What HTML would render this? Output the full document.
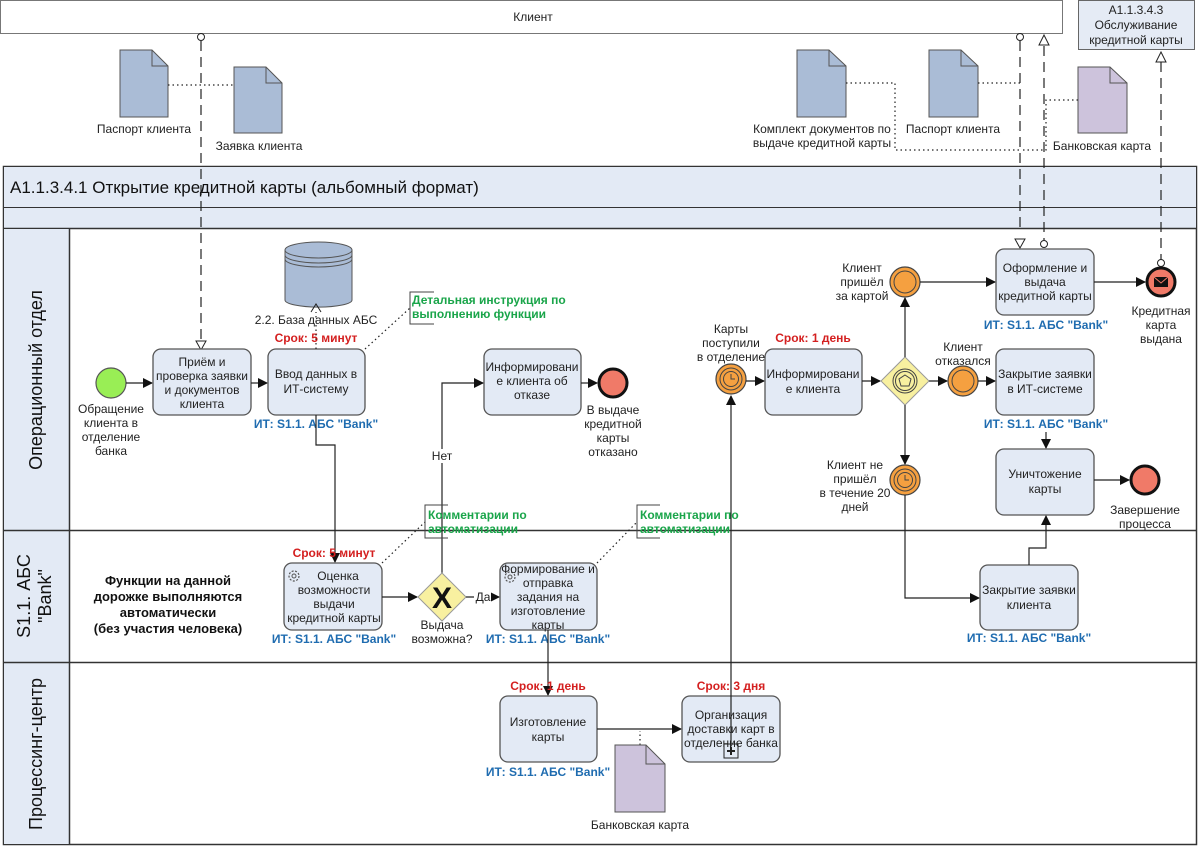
<!DOCTYPE html>
<html><head><meta charset="utf-8"><style>
html,body{margin:0;padding:0;background:#fff}
svg{display:block;font-family:"Liberation Sans",sans-serif}
.t{font-size:12px;fill:#222;text-anchor:middle}
.r{font-size:12px;fill:#d42020;font-weight:bold;text-anchor:middle}
.b{font-size:12px;fill:#1f6cb0;font-weight:bold;text-anchor:middle}
.g{font-size:12px;fill:#1aa54a;font-weight:bold}
.task{fill:#e3eaf5;stroke:#555;stroke-width:1.3}
.sq{stroke:#222;stroke-width:1.2;fill:none}
.dash{stroke:#222;stroke-width:1.2;fill:none;stroke-dasharray:10,6}
.dot{stroke:#222;stroke-width:1.2;fill:none;stroke-dasharray:1.5,3}
.doc{fill:#aabcd6;stroke:#555;stroke-width:1}
.docp{fill:#cdc3dc;stroke:#555;stroke-width:1}
</style></head><body>
<svg width="1200" height="846" viewBox="0 0 1200 846" xmlns="http://www.w3.org/2000/svg">
<defs>
<marker id="a" markerWidth="10" markerHeight="10" refX="9" refY="5" orient="auto" markerUnits="userSpaceOnUse"><path d="M0,0 L10,5 L0,10 z" fill="#111"/></marker>
</defs>
<rect x="0.5" y="0.5" width="1062" height="33" fill="#fff" stroke="#777"/>
<text class="t" x="533" y="21">Клиент</text>
<rect x="1078.5" y="0.5" width="116" height="49" fill="#e5ebf5" stroke="#666"/>
<text class="t" x="1136" y="14">A1.1.3.4.3</text>
<text class="t" x="1136" y="29">Обслуживание</text>
<text class="t" x="1136" y="44">кредитной карты</text>

<rect x="3.5" y="166.5" width="1193" height="678" fill="#fff" stroke="#333" stroke-width="1.5"/>
<rect x="4" y="167" width="1192" height="40" fill="#e3eaf5"/>
<rect x="4" y="208" width="1192" height="20" fill="#e3eaf5"/>
<line x1="3" y1="207.5" x2="1197" y2="207.5" stroke="#333"/>
<line x1="3" y1="228.5" x2="1197" y2="228.5" stroke="#333" stroke-width="1.5"/>
<text x="10" y="193" style="font-size:17px;fill:#111">A1.1.3.4.1 Открытие кредитной карты (альбомный формат)</text>
<rect x="4" y="229" width="65" height="615" fill="#e3eaf5"/>
<line x1="69.5" y1="229" x2="69.5" y2="845" stroke="#333" stroke-width="1.5"/>
<line x1="3" y1="530.5" x2="1197" y2="530.5" stroke="#333" stroke-width="1.5"/>
<line x1="3" y1="662.5" x2="1197" y2="662.5" stroke="#333" stroke-width="1.5"/>
<text transform="translate(42,380) rotate(-90)" style="font-size:18px;fill:#111;text-anchor:middle">Операционный отдел</text>
<text transform="translate(30,596) rotate(-90)" style="font-size:18px;fill:#111;text-anchor:middle">S1.1. АБС</text>
<text transform="translate(51,596) rotate(-90)" style="font-size:18px;fill:#111;text-anchor:middle">"Bank"</text>
<text transform="translate(42,754) rotate(-90)" style="font-size:18px;fill:#111;text-anchor:middle">Процессинг-центр</text>

<path class="doc" d="M120,50 H152 L168,66 V117 H120 Z"/><path d="M152,50 V66 H168" fill="none" stroke="#555"/>
<text class="t" x="144" y="133">Паспорт клиента</text>
<path class="doc" d="M234,67 H266 L282,83 V133 H234 Z"/><path d="M266,67 V83 H282" fill="none" stroke="#555"/>
<text class="t" x="259" y="150">Заявка клиента</text>
<path class="dot" d="M168,85 H234"/>
<path class="doc" d="M797,50 H829 L846,66 V117 H797 Z"/><path d="M829,50 V66 H846" fill="none" stroke="#555"/>
<text class="t" x="822" y="133">Комплект документов по</text>
<text class="t" x="822" y="147">выдаче кредитной карты</text>
<path class="doc" d="M929,50 H961 L978,66 V117 H929 Z"/><path d="M961,50 V66 H978" fill="none" stroke="#555"/>
<text class="t" x="953" y="133">Паспорт клиента</text>
<path class="docp" d="M1078,67 H1110 L1127,83 V133 H1078 Z"/><path d="M1110,67 V83 H1127" fill="none" stroke="#555"/>
<text class="t" x="1102" y="150">Банковская карта</text>
<path class="dot" d="M846,83 H895 V150 H1020"/>
<path class="dot" d="M978,83 H1020"/>
<path class="dot" d="M1078,100 H1046 V150 H1020"/>

<path class="dash" d="M201,41 V342"/>
<circle cx="201" cy="37" r="3.5" fill="#fff" stroke="#222"/>
<path d="M196,341 L206,341 L201,350 Z" fill="#fff" stroke="#222"/>
<path class="dash" d="M1020,41 V232"/>
<circle cx="1020" cy="37" r="3.5" fill="#fff" stroke="#222"/>
<path d="M1015,239 L1025,239 L1020,248 Z" fill="#fff" stroke="#222"/>
<path class="dash" d="M1044,46 V240"/>
<path d="M1039,45 L1049,45 L1044,35 Z" fill="#fff" stroke="#222"/>
<circle cx="1044" cy="244" r="3.5" fill="#fff" stroke="#222"/>
<path class="dash" d="M1161,62 V262"/>
<path d="M1156,62 L1166,62 L1161,52 Z" fill="#fff" stroke="#222"/>
<circle cx="1161" cy="263" r="3.5" fill="#fff" stroke="#222"/>

<circle cx="111" cy="383" r="15" fill="#99ee55" stroke="#555" stroke-width="1.2"/>
<text class="t" x="111" y="413">Обращение</text><text class="t" x="111" y="427">клиента в</text><text class="t" x="111" y="441">отделение</text><text class="t" x="111" y="455">банка</text>
<path class="sq" d="M126,383 H152" marker-end="url(#a)"/>
<rect class="task" x="153" y="349" width="98" height="66" rx="8"/>
<text class="t" x="202" y="366">Приём и</text><text class="t" x="202" y="380">проверка заявки</text><text class="t" x="202" y="394">и документов</text><text class="t" x="202" y="408">клиента</text>
<path class="sq" d="M251,383 H267" marker-end="url(#a)"/>
<rect class="task" x="268" y="349" width="97" height="66" rx="8"/>
<text class="t" x="316" y="378">Ввод данных в</text><text class="t" x="316" y="393">ИТ-систему</text>
<text class="b" x="316" y="428">ИТ: S1.1. АБС "Bank"</text>
<text class="r" x="316" y="342">Срок: 5 минут</text>
<path d="M285,250 V300 A33,7 0 0 0 352,300 V250" fill="#aabcd6" stroke="#555"/>
<ellipse cx="318.5" cy="250" rx="33.5" ry="8" fill="#aabcd6" stroke="#555"/>
<path d="M285,255 A33.5,8 0 0 0 352,255 M285,259 A33.5,8 0 0 0 352,259" fill="none" stroke="#555"/>
<text class="t" x="316" y="324">2.2. База данных АБС</text>
<path class="dot" d="M316,349 V312"/><path d="M311,312 L316,304 L321,312" fill="none" stroke="#222"/>
<path d="M434,292 H410 V324 H434" fill="none" stroke="#444"/>
<text class="g" x="412" y="304">Детальная инструкция по</text>
<text class="g" x="412" y="318">выполнению функции</text>
<path class="dot" d="M365,349 L410,308"/>
<rect class="task" x="484" y="349" width="97" height="66" rx="8"/>
<text class="t" x="532" y="371">Информировани</text><text class="t" x="532" y="385">е клиента об</text><text class="t" x="532" y="399">отказе</text>
<path class="sq" d="M581,383 H597" marker-end="url(#a)"/>
<circle cx="613" cy="383" r="14" fill="#f07a68" stroke="#111" stroke-width="3"/>
<text class="t" x="613" y="414">В выдаче</text><text class="t" x="613" y="428">кредитной</text><text class="t" x="613" y="442">карты</text><text class="t" x="613" y="456">отказано</text>
<path class="sq" d="M442,573 V383 H483" marker-end="url(#a)"/>
<rect x="430" y="449" width="24" height="14" fill="#fff"/>
<text class="t" x="442" y="460">Нет</text>
<path class="sq" d="M316,415 V445 H335 V562" marker-end="url(#a)"/>

<circle cx="731" cy="379" r="15" fill="#f5a040" stroke="#444" stroke-width="1.2"/>
<circle cx="731" cy="379" r="11" fill="none" stroke="#444"/><circle cx="731" cy="379" r="7.5" fill="none" stroke="#444"/>
<path d="M731,374 V379 H735" fill="none" stroke="#444"/>
<text class="t" x="731" y="333">Карты</text><text class="t" x="731" y="347">поступили</text><text class="t" x="731" y="361">в отделение</text>
<path class="sq" d="M746,381 H764" marker-end="url(#a)"/>
<rect class="task" x="765" y="349" width="97" height="66" rx="8"/>
<text class="t" x="813" y="378">Информировани</text><text class="t" x="813" y="393">е клиента</text>
<text class="r" x="813" y="342">Срок: 1 день</text>
<path class="sq" d="M862,381 H880" marker-end="url(#a)"/>
<path d="M905,357 L929,381 L905,405 L881,381 Z" fill="#f8f0a0" stroke="#999"/>
<circle cx="905" cy="381" r="12" fill="none" stroke="#444"/><circle cx="905" cy="381" r="9.5" fill="none" stroke="#444"/>
<path d="M905,375 L911,379 L909,386 L901,386 L899,379 Z" fill="none" stroke="#444"/>
<path class="sq" d="M905,357 V298" marker-end="url(#a)"/>
<path class="sq" d="M905,405 V464" marker-end="url(#a)"/>
<path class="sq" d="M929,381 H947" marker-end="url(#a)"/>
<circle cx="905" cy="282" r="15" fill="#f5a040" stroke="#444" stroke-width="1.2"/><circle cx="905" cy="282" r="11" fill="none" stroke="#444"/>
<text class="t" x="862" y="272">Клиент</text><text class="t" x="862" y="286">пришёл</text><text class="t" x="862" y="300">за картой</text>
<path class="sq" d="M920,282 H995" marker-end="url(#a)"/>
<rect class="task" x="996" y="249" width="98" height="66" rx="8"/>
<text class="t" x="1045" y="272">Оформление и</text><text class="t" x="1045" y="286">выдача</text><text class="t" x="1045" y="300">кредитной карты</text>
<text class="b" x="1046" y="329">ИТ: S1.1. АБС "Bank"</text>
<path class="sq" d="M1094,282 H1145" marker-end="url(#a)"/>
<circle cx="1161" cy="282" r="14" fill="#f07a68" stroke="#111" stroke-width="3"/>
<rect x="1154" y="277" width="14" height="10" fill="#111"/><path d="M1154,277 L1161,283 L1168,277" fill="none" stroke="#f07a68"/>
<text class="t" x="1161" y="315">Кредитная</text><text class="t" x="1161" y="329">карта</text><text class="t" x="1161" y="343">выдана</text>
<circle cx="963" cy="381" r="15" fill="#f5a040" stroke="#444" stroke-width="1.2"/><circle cx="963" cy="381" r="11" fill="none" stroke="#444"/>
<text class="t" x="963" y="351">Клиент</text><text class="t" x="963" y="365">отказался</text>
<path class="sq" d="M978,381 H995" marker-end="url(#a)"/>
<rect class="task" x="996" y="349" width="98" height="66" rx="8"/>
<text class="t" x="1045" y="378">Закрытие заявки</text><text class="t" x="1045" y="393">в ИТ-системе</text>
<text class="b" x="1046" y="428">ИТ: S1.1. АБС "Bank"</text>
<path class="sq" d="M1046,432 V448" marker-end="url(#a)"/>
<rect class="task" x="996" y="449" width="98" height="66" rx="8"/>
<text class="t" x="1045" y="478">Уничтожение</text><text class="t" x="1045" y="493">карты</text>
<path class="sq" d="M1094,480 H1129" marker-end="url(#a)"/>
<circle cx="1145" cy="480" r="14" fill="#f07a68" stroke="#111" stroke-width="3"/>
<text class="t" x="1145" y="514">Завершение</text><text class="t" x="1145" y="528">процесса</text>
<circle cx="905" cy="480" r="15" fill="#f5a040" stroke="#444" stroke-width="1.2"/>
<circle cx="905" cy="480" r="11" fill="none" stroke="#444"/><circle cx="905" cy="480" r="7.5" fill="none" stroke="#444"/>
<path d="M905,475 V480 H909" fill="none" stroke="#444"/>
<text class="t" x="855" y="469">Клиент не</text><text class="t" x="855" y="483">пришёл</text><text class="t" x="855" y="497">в течение 20</text><text class="t" x="855" y="511">дней</text>
<path class="sq" d="M905,495 V598 H979" marker-end="url(#a)"/>
<rect class="task" x="980" y="565" width="98" height="65" rx="8"/>
<text class="t" x="1029" y="594">Закрытие заявки</text><text class="t" x="1029" y="609">клиента</text>
<text class="b" x="1029" y="642">ИТ: S1.1. АБС "Bank"</text>
<path class="sq" d="M1029,565 V548 H1046 V516" marker-end="url(#a)"/>

<text x="168" y="585" style="font-size:13px;font-weight:bold;text-anchor:middle;fill:#111">Функции на данной</text>
<text x="168" y="601" style="font-size:13px;font-weight:bold;text-anchor:middle;fill:#111">дорожке выполняются</text>
<text x="168" y="617" style="font-size:13px;font-weight:bold;text-anchor:middle;fill:#111">автоматически</text>
<text x="168" y="633" style="font-size:13px;font-weight:bold;text-anchor:middle;fill:#111">(без участия человека)</text>
<rect class="task" x="284" y="563" width="98" height="67" rx="8"/>
<circle cx="294" cy="576" r="5" fill="none" stroke="#555" stroke-width="1.2" stroke-dasharray="2,1.5"/><circle cx="294" cy="576" r="2" fill="none" stroke="#555"/>
<text class="t" x="338" y="580">Оценка</text><text class="t" x="334" y="594">возможности</text><text class="t" x="334" y="608">выдачи</text><text class="t" x="334" y="622">кредитной карты</text>
<text class="r" x="334" y="557">Срок: 5 минут</text>
<text class="b" x="334" y="643">ИТ: S1.1. АБС "Bank"</text>
<path class="sq" d="M382,597 H417" marker-end="url(#a)"/>
<path d="M442,573 L466,597 L442,621 L418,597 Z" fill="#f8f0a0" stroke="#999"/>
<text x="442" y="608" style="font-size:30px;font-weight:bold;text-anchor:middle;fill:#111">X</text>
<text class="t" x="442" y="629">Выдача</text><text class="t" x="442" y="643">возможна?</text>
<path class="sq" d="M466,597 H499" marker-end="url(#a)"/>
<rect x="474" y="589" width="17" height="14" fill="#fff"/>
<text class="t" x="483" y="601">Да</text>
<rect class="task" x="500" y="563" width="97" height="67" rx="8"/>
<circle cx="510" cy="577" r="5" fill="none" stroke="#555" stroke-width="1.2" stroke-dasharray="2,1.5"/><circle cx="510" cy="577" r="2" fill="none" stroke="#555"/>
<text class="t" x="548" y="573">Формирование и</text><text class="t" x="548" y="587">отправка</text><text class="t" x="548" y="601">задания на</text><text class="t" x="548" y="615">изготовление</text><text class="t" x="548" y="629">карты</text>
<text class="b" x="548" y="643">ИТ: S1.1. АБС "Bank"</text>
<path d="M448,505 H425 V538 H448" fill="none" stroke="#444"/>
<text class="g" x="428" y="519">Комментарии по</text><text class="g" x="428" y="533">автоматизации</text>
<path class="dot" d="M382,563 L425,522"/>
<path d="M660,505 H637 V538 H660" fill="none" stroke="#444"/>
<text class="g" x="640" y="519">Комментарии по</text><text class="g" x="640" y="533">автоматизации</text>
<path class="dot" d="M597,563 L637,522"/>

<path class="sq" d="M548,630 V695" marker-end="url(#a)"/>
<rect class="task" x="500" y="696" width="97" height="66" rx="8"/>
<text class="t" x="548" y="726">Изготовление</text><text class="t" x="548" y="741">карты</text>
<text class="r" x="548" y="690">Срок: 1 день</text>
<text class="b" x="548" y="776">ИТ: S1.1. АБС "Bank"</text>
<path class="sq" d="M597,729 H681" marker-end="url(#a)"/>
<path class="dot" d="M640,745 V731"/>
<path class="docp" d="M615,745 H646 L665,764 V812 H615 Z"/><path d="M646,745 V764 H665" fill="none" stroke="#555"/>
<text class="t" x="640" y="829">Банковская карта</text>
<rect class="task" x="682" y="696" width="98" height="66" rx="8"/>
<text class="t" x="731" y="719">Организация</text><text class="t" x="731" y="733">доставки карт в</text><text class="t" x="731" y="747">отделение банка</text>
<rect x="724" y="744" width="14" height="14" fill="none" stroke="#222"/><path d="M731,747 V755 M727,751 H735" stroke="#222" stroke-width="2"/>
<text class="r" x="731" y="690">Срок: 3 дня</text>
<path class="sq" d="M731,744 V396" marker-end="url(#a)"/>
</svg>
</body></html>
